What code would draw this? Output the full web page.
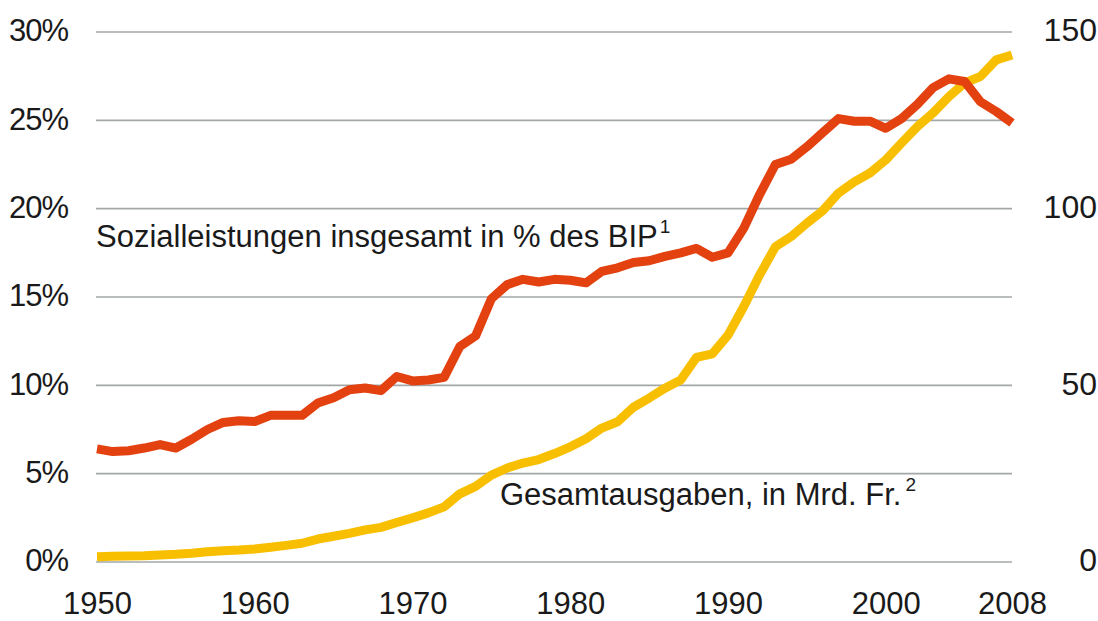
<!DOCTYPE html>
<html>
<head>
<meta charset="utf-8">
<script src="https://cdn.jsdelivr.net/npm/d3@7"></script>
<style>
  body { margin: 0; background: #fff; }
  svg text { font-family: "Liberation Sans", Arial, sans-serif; fill: #1a1a1a; }
</style>
</head>
<body>
<div id="chart"></div>
<script>
//constants
const width = 1098;
const height = 621;
const margin = { top: 32, bottom: 59, left: 97, right: 86 };

//data
const years = d3.range(1950, 2009);

// Sozialleistungen insgesamt in % des BIP
const sozialQuote = [
  6.4, 6.25, 6.3, 6.45, 6.65, 6.45, 6.95, 7.5, 7.9, 8.0,
  7.95, 8.3, 8.3, 8.3, 9.0, 9.3, 9.75, 9.85, 9.7, 10.5,
  10.25, 10.3, 10.45, 12.2, 12.8, 14.9, 15.7, 16.0, 15.85, 16.0,
  15.95, 15.8, 16.45, 16.65, 16.95, 17.05, 17.3, 17.5, 17.75, 17.25,
  17.5, 18.9, 20.8, 22.5, 22.8, 23.5, 24.3, 25.1, 24.95, 24.95,
  24.55, 25.1, 25.9, 26.85, 27.35, 27.2, 26.05, 25.5, 24.85,
];

// Gesamtausgaben, in Mrd. Fr.
const gesamtAusgaben = [
  1.5, 1.6, 1.7, 1.8, 2.0, 2.2, 2.5, 2.9, 3.2, 3.4,
  3.7, 4.2, 4.7, 5.3, 6.5, 7.3, 8.1, 9.1, 9.8, 11.2,
  12.5, 13.9, 15.6, 19.3, 21.4, 24.6, 26.6, 28.0, 29.0, 30.7,
  32.6, 34.9, 37.9, 39.7, 43.8, 46.4, 49.2, 51.5, 57.9, 58.9,
  64.2, 72.3, 81.2, 89.2, 92.1, 95.9, 99.4, 104.4, 107.6, 110.1,
  113.8, 118.6, 123.2, 127.1, 131.7, 135.6, 137.4, 142.1, 143.5,
];

const xTicks = [1950, 1960, 1970, 1980, 1990, 2000, 2008];
const leftTicks = [0, 5, 10, 15, 20, 25, 30];
const rightTicks = [0, 50, 100, 150];

//colours
const red = "#e3410f";
const yellow = "#f8bf00";
const grid = "#a3a7a7";

const svg = d3
  .select("#chart")
  .append("svg")
  .attr("width", width)
  .attr("height", height);

//scales
const x = d3
  .scaleLinear()
  .domain([1950, 2008])
  .range([margin.left, width - margin.right]);

const yLeft = d3
  .scaleLinear()
  .domain([0, 30])
  .range([height - margin.bottom, margin.top]);

const yRight = d3
  .scaleLinear()
  .domain([0, 150])
  .range([height - margin.bottom, margin.top]);

//gridlines
svg
  .append("g")
  .selectAll("line")
  .data(leftTicks)
  .join("line")
  .attr("x1", x(1950) - 1)
  .attr("x2", x(2008))
  .attr("y1", (d) => yLeft(d))
  .attr("y2", (d) => yLeft(d))
  .attr("stroke", grid)
  .attr("stroke-width", 1.6);

//left axis (percent)
const leftAxis = d3
  .axisLeft(yLeft)
  .tickValues(leftTicks)
  .tickSize(0)
  .tickPadding(0)
  .tickFormat((d) => d + "%");

svg
  .append("g")
  .attr("class", "axis left")
  .attr("transform", "translate(68,0)")
  .call(leftAxis);

//right axis (Mrd. Fr.)
const rightAxis = d3
  .axisRight(yRight)
  .tickValues(rightTicks)
  .tickSize(0)
  .tickPadding(0);

svg
  .append("g")
  .attr("class", "axis right")
  .attr("transform", "translate(1097,0)")
  .call(rightAxis);

//bottom axis
const bottomAxis = d3
  .axisBottom(x)
  .tickValues(xTicks)
  .tickSize(0)
  .tickPadding(0)
  .tickFormat(d3.format("d"));

svg
  .append("g")
  .attr("class", "axis bottom")
  .attr("transform", `translate(0, ${height - margin.bottom})`)
  .call(bottomAxis);

svg.selectAll("path.domain").remove();

svg
  .selectAll(".axis text")
  .attr("font-family", "Liberation Sans, Arial, sans-serif")
  .attr("font-size", 32)
  .attr("fill", "#1a1a1a");

// the percent labels are set a bit narrower in the original
svg.selectAll(".axis.left text").attr("font-size", 31).attr("letter-spacing", -1);

// vertical alignment of tick labels
svg.selectAll(".axis:not(.bottom) text").attr("dy", "0.28em");
svg.selectAll(".axis.right text").attr("text-anchor", "end");
// year labels sit right at the bottom edge, keep them inside the frame
svg
  .selectAll(".axis.bottom text")
  .attr("dy", null)
  .attr("y", 52)
  .attr("font-size", 31);

//lines
const ausgabenLine = d3
  .line()
  .x((d, i) => x(years[i]))
  .y((d) => yRight(d));

const quoteLine = d3
  .line()
  .x((d, i) => x(years[i]))
  .y((d) => yLeft(d));

svg
  .append("path")
  .datum(gesamtAusgaben)
  .attr("d", ausgabenLine)
  .attr("fill", "none")
  .attr("stroke", yellow)
  .attr("stroke-width", 9)
  .attr("stroke-linejoin", "round");

svg
  .append("path")
  .datum(sozialQuote)
  .attr("d", quoteLine)
  .attr("fill", "none")
  .attr("stroke", red)
  .attr("stroke-width", 9)
  .attr("stroke-linejoin", "round");

//series labels
const label1 = svg
  .append("text")
  .attr("x", 96)
  .attr("y", 247)
  .attr("font-size", 31);
label1.append("tspan").text("Sozialleistungen insgesamt in % des BIP");
label1.append("tspan").attr("dx", 2).attr("dy", -14).attr("font-size", 19).text("1");

const label2 = svg
  .append("text")
  .attr("x", 500)
  .attr("y", 505)
  .attr("font-size", 31);
label2.append("tspan").text("Gesamtausgaben, in Mrd. Fr.");
label2.append("tspan").attr("dx", 4).attr("dy", -14).attr("font-size", 19).text("2");
</script>
</body>
</html>
